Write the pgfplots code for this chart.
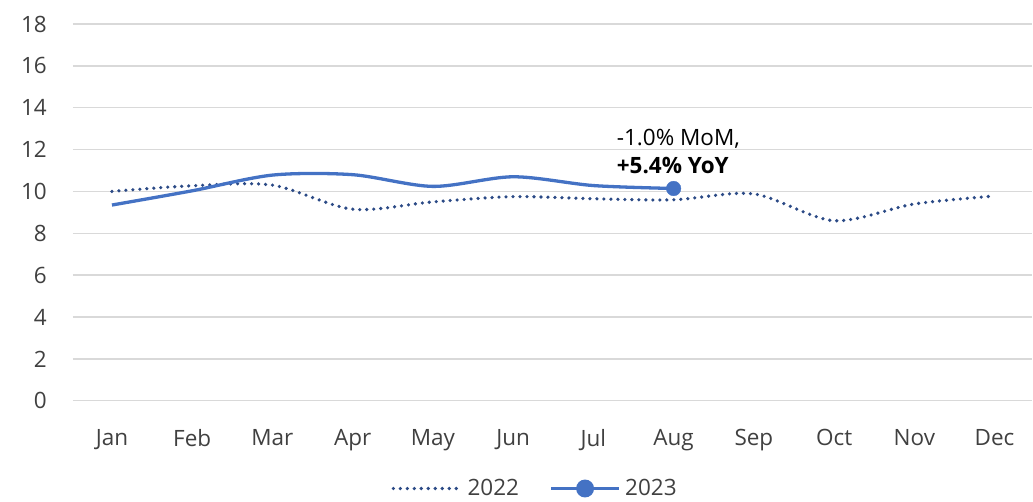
\documentclass[border=0pt]{standalone}
\usepackage{pgfplots}
\pgfplotsset{compat=1.18}
\usepackage{fontspec}
\setmainfont{Open Sans}
\definecolor{c22}{HTML}{2B4A86}
\definecolor{c23}{HTML}{4472C4}
\definecolor{gridc}{HTML}{D9D9D9}
\definecolor{txt}{HTML}{404040}
\begin{document}
\fontsize{22}{28}\selectfont
\begin{tikzpicture}
\begin{axis}[
  name=ax, at={(0,0)}, anchor=south west,
  scale only axis, width=960pt, height=377pt,
  xmin=-0.486, xmax=11.47, ymin=0, ymax=18,
  axis line style={draw=none},
  major tick length=0pt,
  ytick={0,2,...,18},
  xtick={0,...,11},
  xticklabels={Jan,Feb,Mar,Apr,May,Jun,Jul,Aug,Sep,Oct,Nov,Dec},
  ymajorgrids,
  grid style={gridc, line width=1.4pt},
  tick label style={font=\fontsize{22.5}{26}\selectfont, text=txt},
  /pgf/number format/assume math mode=true,
  yticklabel style={anchor=east, inner sep=0pt, xshift=-26pt},
  xticklabel style={anchor=north, inner sep=0pt, yshift=-28.5pt},
  clip=false,
  legend columns=2,
  legend style={at={(axis description cs:0.483,-0.233)}, anchor=center, draw=none,
    font=\fontsize{22.5}{26}\selectfont, text=txt, inner sep=0pt,
    /tikz/every even column/.append style={column sep=26pt},
    nodes={inner xsep=4.5pt, inner ysep=0pt}},
  legend image code/.code={\draw[mark repeat=2,mark phase=2,#1] plot coordinates {(0pt,0pt)(34pt,0pt)(68pt,0pt)};},
]
\addplot[c22, line width=3.6pt, line cap=round, dash pattern=on 0pt off 7pt, smooth, tension=0.5]
  coordinates {(0,10.0)(1,10.27)(2,10.3)(3,9.15)(4,9.5)(5,9.75)(6,9.65)(7,9.6)(8,9.88)(9,8.6)(10,9.4)(11,9.78)};
\addlegendentry{2022}
\addplot[c23, line width=3.3pt, smooth, tension=0.5, forget plot]
  coordinates {(0,9.35)(1,10.03)(2,10.78)(3,10.8)(4,10.24)(5,10.7)(6,10.28)(7,10.14)};
\addplot[c23, only marks, mark=*, mark size=7.3pt, forget plot] coordinates {(7,10.14)};
\addlegendimage{c23, line width=3.3pt, mark=*, mark size=7.3pt}
\addlegendentry{2023}
\node[anchor=north west, align=left, inner sep=0pt, text=black, font=\fontsize{22.5}{28}\selectfont]
  at (axis cs:6.29,12.99) {-1.0\% MoM,\\\textbf{+5.4\% YoY}};
\end{axis}
\path[use as bounding box] (-73pt,-101pt) rectangle (960pt,401pt);
\end{tikzpicture}
\end{document}
